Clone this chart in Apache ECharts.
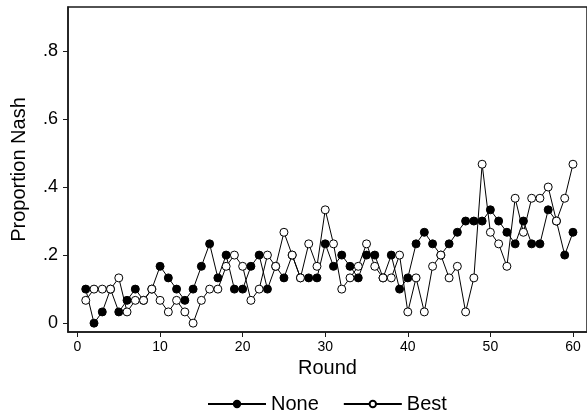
<!DOCTYPE html>
<html>
<head>
<meta charset="utf-8">
<script src="https://cdn.jsdelivr.net/npm/echarts@6/dist/echarts.min.js"></script>
<style>
  html, body { margin: 0; padding: 0; background: #fff; }
  #chart { width: 587px; height: 417px; }
</style>
</head>
<body>
<div id="chart"></div>
<script>
// rounds 1..60
const rounds = [1, 2, 3, 4, 5, 6, 7, 8, 9, 10, 11, 12, 13, 14, 15, 16, 17, 18, 19, 20,
  21, 22, 23, 24, 25, 26, 27, 28, 29, 30, 31, 32, 33, 34, 35, 36, 37, 38, 39, 40,
  41, 42, 43, 44, 45, 46, 47, 48, 49, 50, 51, 52, 53, 54, 55, 56, 57, 58, 59, 60];

// proportion Nash
const noneValues = [0.1, 0, 0.033, 0.1, 0.033, 0.067, 0.1, 0.067, 0.1, 0.167,
  0.133, 0.1, 0.067, 0.1, 0.167, 0.233, 0.133, 0.2, 0.1, 0.1,
  0.167, 0.2, 0.1, 0.167, 0.133, 0.2, 0.133, 0.133, 0.133, 0.233,
  0.167, 0.2, 0.167, 0.133, 0.2, 0.2, 0.133, 0.2, 0.1, 0.133,
  0.233, 0.267, 0.233, 0.2, 0.233, 0.267, 0.3, 0.3, 0.3, 0.333,
  0.3, 0.267, 0.233, 0.3, 0.233, 0.233, 0.333, 0.3, 0.2, 0.267];

const bestValues = [0.067, 0.1, 0.1, 0.1, 0.133, 0.033, 0.067, 0.067, 0.1, 0.067,
  0.033, 0.067, 0.033, 0, 0.067, 0.1, 0.1, 0.167, 0.2, 0.167,
  0.067, 0.1, 0.2, 0.167, 0.267, 0.2, 0.133, 0.233, 0.167, 0.333,
  0.233, 0.1, 0.133, 0.167, 0.233, 0.167, 0.133, 0.133, 0.2, 0.033,
  0.133, 0.033, 0.167, 0.2, 0.133, 0.167, 0.033, 0.133, 0.467, 0.267,
  0.233, 0.167, 0.367, 0.267, 0.367, 0.367, 0.4, 0.3, 0.367, 0.467];

const xTicks = [0, 10, 20, 30, 40, 50, 60];
const yTicks = [0, 0.2, 0.4, 0.6, 0.8];
const yTickLabels = ['0', '.2', '.4', '.6', '.8'];

const font = 'Liberation Sans, Arial, Helvetica, sans-serif';

const chart = echarts.init(document.getElementById('chart'), null, { renderer: 'canvas' });

const toPairs = vals => rounds.map((r, i) => [r, vals[i]]);

const option = {
  animation: false,
  backgroundColor: '#fff',
  textStyle: { fontFamily: font, color: '#000' },
  grid: {
    left: 68,
    top: 7,
    bottom: 85,
    right: -8,
    show: true,
    borderColor: '#1a1a1a',
    borderWidth: 1.5,
    backgroundColor: 'transparent'
  },
  legend: {
    left: 202,
    top: 389,
    itemWidth: 58,
    itemHeight: 8,
    itemGap: 24,
    textStyle: { fontSize: 20, color: '#000', fontFamily: font },
    data: ['None', 'Best']
  },
  xAxis: {
    type: 'value',
    min: -1.15,
    max: 61.7,
    name: 'Round',
    nameLocation: 'middle',
    nameGap: 23,
    nameTextStyle: { fontSize: 20, color: '#000', fontFamily: font },
    axisLine: { show: true, onZero: false, lineStyle: { color: '#1a1a1a', width: 1.5 } },
    axisTick: { show: true, length: 5, customValues: xTicks, lineStyle: { color: '#1a1a1a' } },
    axisLabel: { customValues: xTicks, fontSize: 14, color: '#000', margin: 8, fontFamily: font },
    splitLine: { show: false }
  },
  yAxis: {
    type: 'value',
    min: -0.026,
    max: 0.929,
    name: 'Proportion Nash',
    nameLocation: 'middle',
    nameGap: 39,
    nameRotate: 90,
    nameTextStyle: { fontSize: 20, color: '#000', fontFamily: font },
    axisLine: { show: true, onZero: false, lineStyle: { color: '#1a1a1a', width: 1.5 } },
    axisTick: { show: true, length: 5, customValues: yTicks, lineStyle: { color: '#1a1a1a' } },
    axisLabel: {
      customValues: yTicks,
      fontSize: 18,
      color: '#000',
      margin: 10,
      fontFamily: font,
      formatter: v => {
        const i = yTicks.findIndex(t => Math.abs(t - v) < 1e-9);
        return i >= 0 ? yTickLabels[i] : '';
      }
    },
    splitLine: { show: false }
  },
  series: [
    {
      name: 'None',
      type: 'line',
      data: toPairs(noneValues),
      symbol: 'circle',
      symbolSize: 8,
      itemStyle: { color: '#000', borderColor: '#000', borderWidth: 1 },
      lineStyle: { color: '#000', width: 1 },
      emphasis: { disabled: true }
    },
    {
      name: 'Best',
      type: 'line',
      data: toPairs(bestValues),
      symbol: 'circle',
      symbolSize: 8,
      itemStyle: { color: '#fff', borderColor: '#000', borderWidth: 1 },
      lineStyle: { color: '#000', width: 1 },
      emphasis: { disabled: true }
    }
  ]
};

chart.setOption(option);
</script>
</body>
</html>
